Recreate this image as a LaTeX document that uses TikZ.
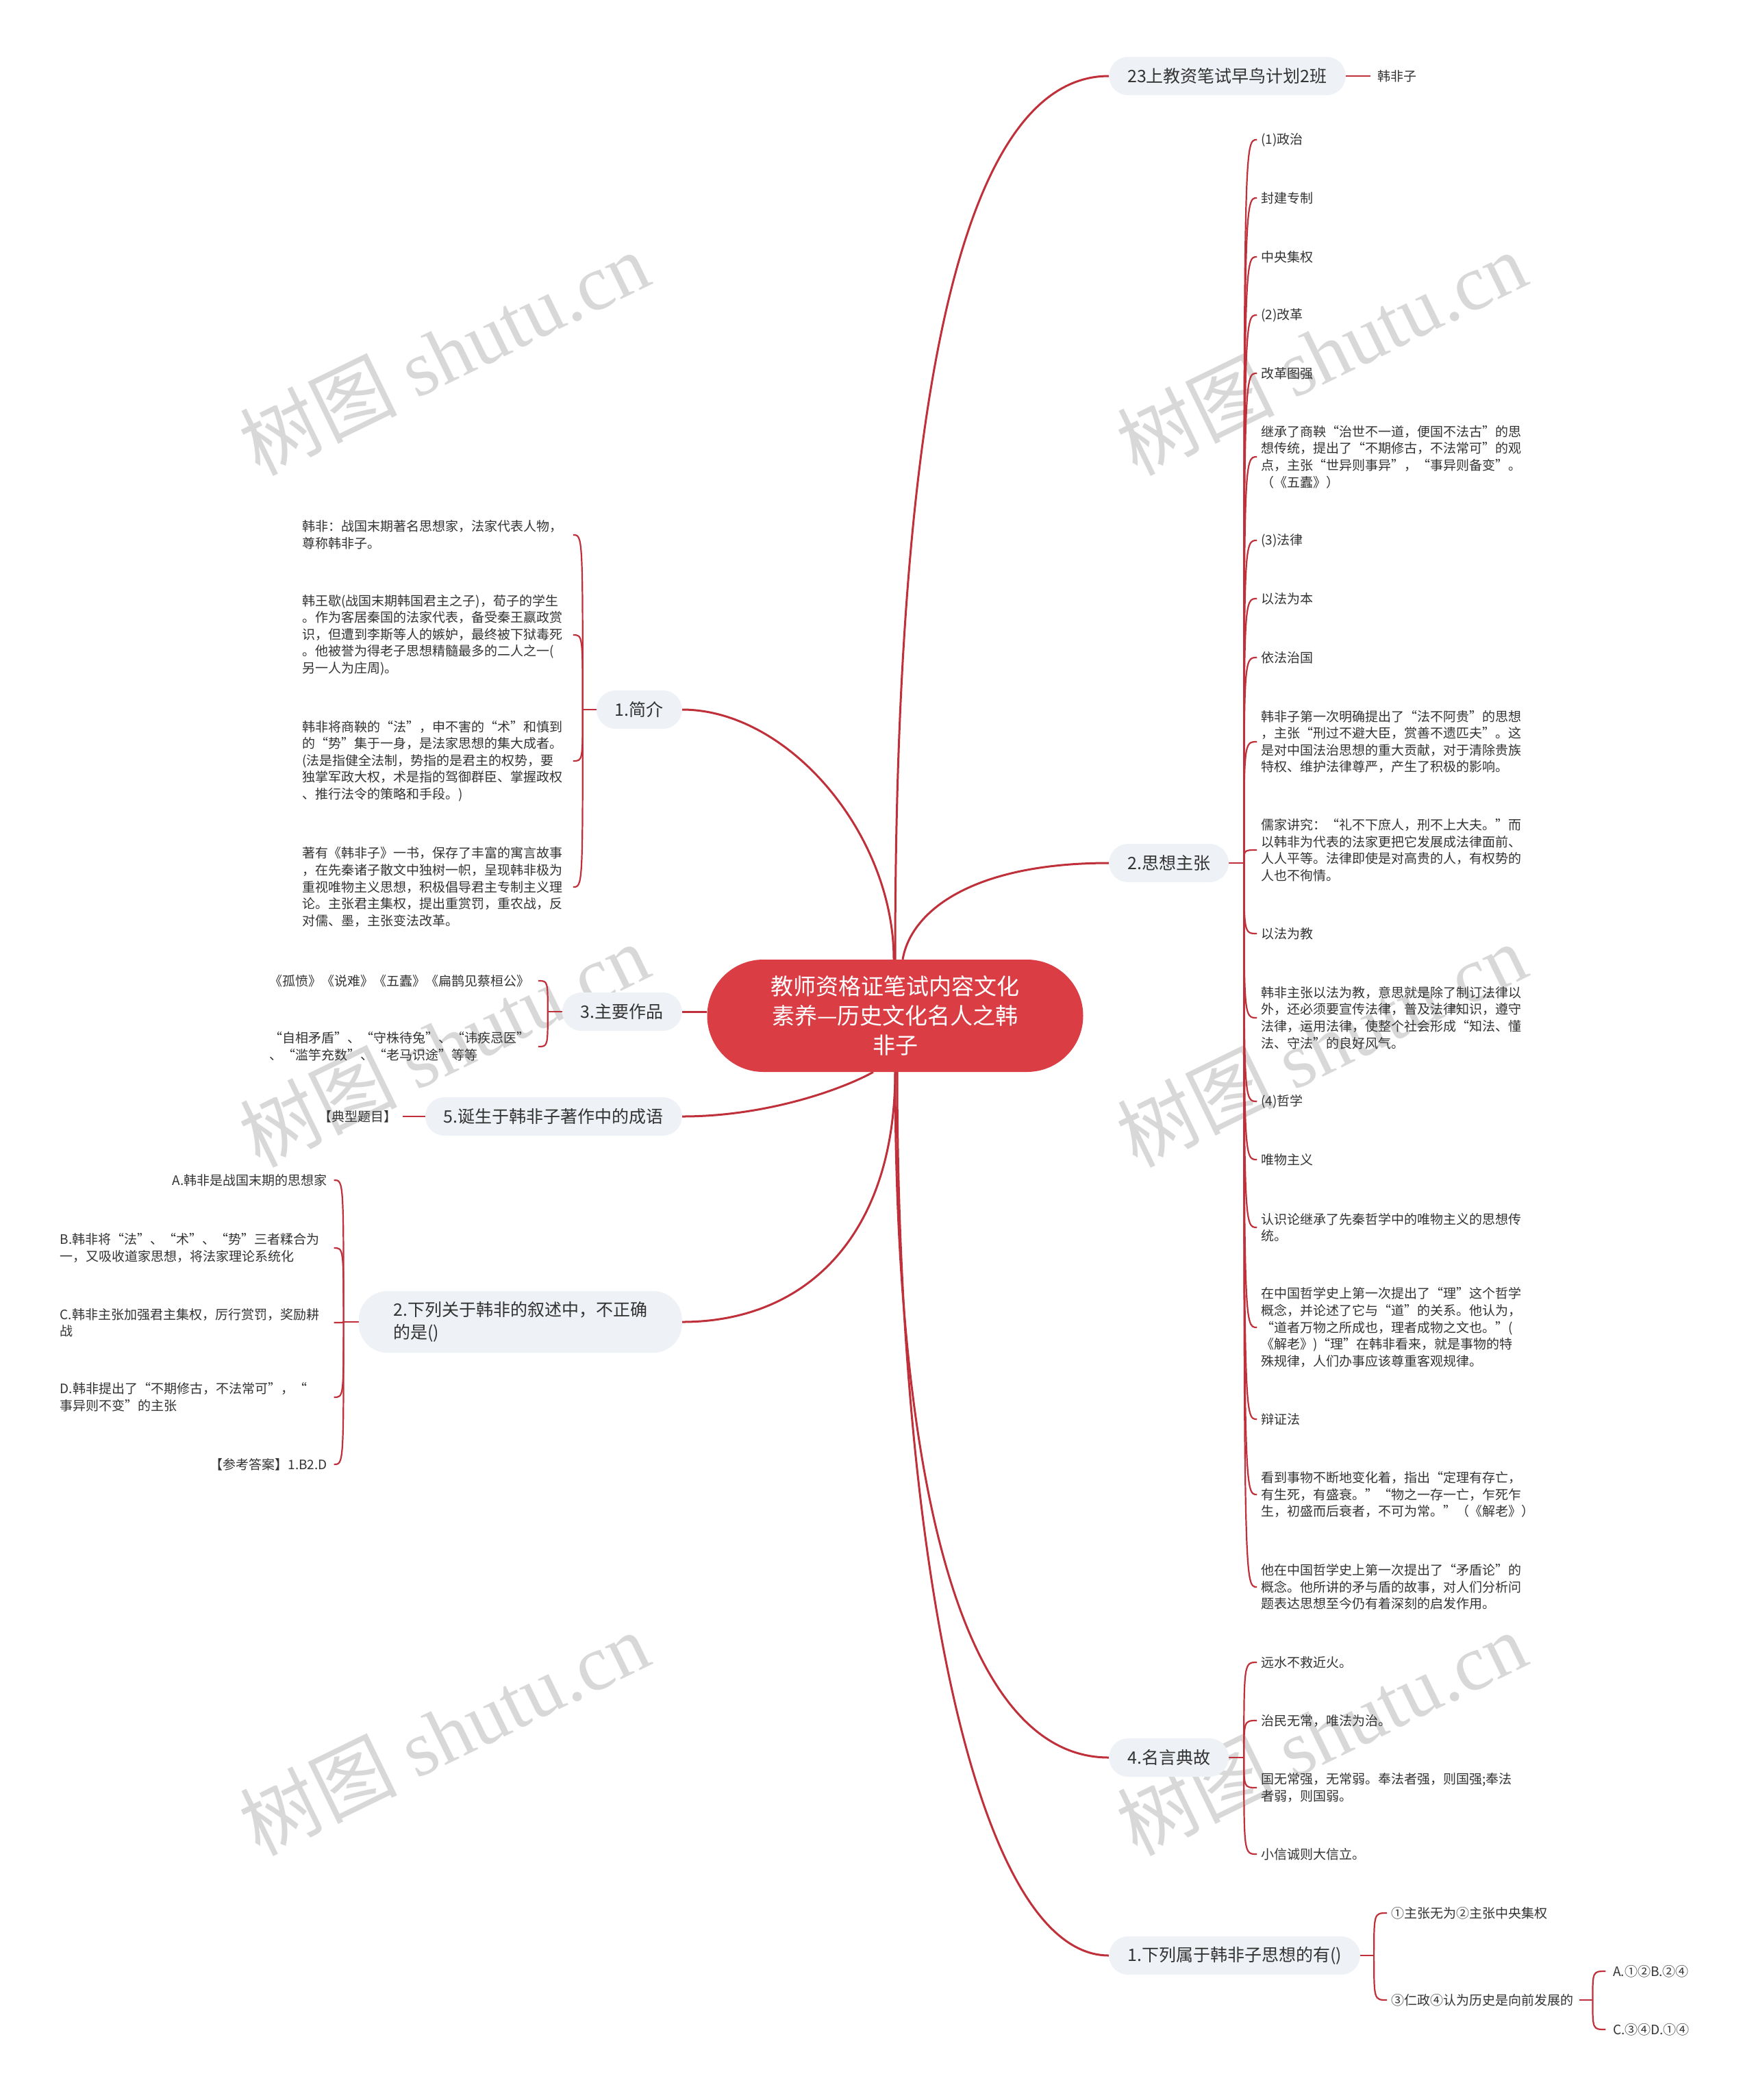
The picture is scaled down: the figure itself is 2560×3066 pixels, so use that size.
\documentclass[tikz,border=0pt]{standalone}
\usepackage{fontspec}
\setmainfont{Noto Sans CJK SC}
\newfontfamily\wmlatin{Liberation Serif}
\usetikzlibrary{calc,backgrounds}
\definecolor{lc}{HTML}{C0303A}
\definecolor{cfill}{HTML}{DB3D45}
\definecolor{bfill}{HTML}{EEF1F5}
\definecolor{txt}{HTML}{333333}
\definecolor{wm}{HTML}{D8D8D8}
\newcommand\hookR[2]{\draw[sub] (#1) .. controls (#1 |- #2.west) and (#1 |- #2.west) .. ($(#1 |- #2.west)+(19,0)$);}
\newcommand\hookL[2]{\draw[sub] (#1) .. controls (#1 |- #2.east) and (#1 |- #2.east) .. ($(#1 |- #2.east)+(-14,0)$);}
\begin{document}
\begin{tikzpicture}[x=1pt,y=-1pt,
  leaf/.style={inner sep=0pt, align=left, text=txt, font=\fontsize{19}{24.6}\selectfont},
  mainbox/.style={fill=bfill, rounded corners=28pt, inner xsep=27pt, inner ysep=0pt, minimum height=56pt, text=txt, font=\fontsize{25}{33}\selectfont, align=left},
  conn/.style={draw=lc, line width=3pt},
  sub/.style={draw=lc, line width=2.2pt},
  wmk/.style={text=wm, rotate=26, inner sep=0pt, font=\fontsize{115}{115}\selectfont}
]
\useasboundingbox (0,0) rectangle (2560,3066);

% root
\node[fill=cfill, text=white, rounded corners=82pt, minimum width=549pt, minimum height=164pt, align=center, inner sep=0pt, font=\fontsize{33}{43}\selectfont] (root) at (1307,1483) {教师资格证笔试内容文化\\素养—历史文化名人之韩\\非子};

% main branches
\node[mainbox, anchor=west] (b23) at (1619,111) {23上教资笔试早鸟计划2班};
\node[mainbox, anchor=west] (b2) at (1619,1260) {2.思想主张};
\node[mainbox, anchor=west] (b4) at (1619,2566) {4.名言典故};
\node[mainbox, anchor=west] (bq1) at (1619,2855) {1.下列属于韩非子思想的有()};
\node[mainbox, anchor=east] (b1) at (996,1036) {1.简介};
\node[mainbox, anchor=east] (b3) at (996,1477) {3.主要作品};
\node[mainbox, anchor=east] (b5) at (996,1630) {5.诞生于韩非子著作中的成语};
\node[mainbox, anchor=east, minimum height=90pt, minimum width=472pt, rounded corners=42pt, inner xsep=40pt] (bq2) at (996,1930) {2.下列关于韩非的叙述中，不正确\\的是()};

% 23上 child
\node[leaf, anchor=west] (hfz) at (2011,111) {韩非子};

% 2.思想主张 leaves
\node[leaf, anchor=west] (r1) at (1841,204) {(1)政治};
\node[leaf, anchor=west] (r2) at (1841,289) {封建专制};
\node[leaf, anchor=west] (r3) at (1841,375) {中央集权};
\node[leaf, anchor=west] (r4) at (1841,460) {(2)改革};
\node[leaf, anchor=west] (r5) at (1841,545) {改革图强};
\node[leaf, anchor=west] (r6) at (1841,667) {继承了商鞅“治世不一道，便国不法古”的思\\想传统，提出了“不期修古，不法常可”的观\\点，主张“世异则事异”，“事异则备变”。\\（《五蠹》）};
\node[leaf, anchor=west] (r7) at (1841,789) {(3)法律};
\node[leaf, anchor=west] (r8) at (1841,874) {以法为本};
\node[leaf, anchor=west] (r9) at (1841,960) {依法治国};
\node[leaf, anchor=west] (r10) at (1841,1083) {韩非子第一次明确提出了“法不阿贵”的思想\\，主张“刑过不避大臣，赏善不遗匹夫”。这\\是对中国法治思想的重大贡献，对于清除贵族\\特权、维护法律尊严，产生了积极的影响。};
\node[leaf, anchor=west] (r11) at (1841,1241) {儒家讲究：“礼不下庶人，刑不上大夫。”而\\以韩非为代表的法家更把它发展成法律面前、\\人人平等。法律即使是对高贵的人，有权势的\\人也不徇情。};
\node[leaf, anchor=west] (r12) at (1841,1363) {以法为教};
\node[leaf, anchor=west] (r13) at (1841,1486) {韩非主张以法为教，意思就是除了制订法律以\\外，还必须要宣传法律，普及法律知识，遵守\\法律，运用法律，使整个社会形成“知法、懂\\法、守法”的良好风气。};
\node[leaf, anchor=west] (r14) at (1841,1608) {(4)哲学};
\node[leaf, anchor=west] (r15) at (1841,1693) {唯物主义};
\node[leaf, anchor=west] (r16) at (1841,1792) {认识论继承了先秦哲学中的唯物主义的思想传\\统。};
\node[leaf, anchor=west] (r17) at (1841,1938) {在中国哲学史上第一次提出了“理”这个哲学\\概念，并论述了它与“道”的关系。他认为，\\“道者万物之所成也，理者成物之文也。”(\\《解老》)“理”在韩非看来，就是事物的特\\殊规律，人们办事应该尊重客观规律。};
\node[leaf, anchor=west] (r18) at (1841,2072) {辩证法};
\node[leaf, anchor=west] (r19) at (1841,2182) {看到事物不断地变化着，指出“定理有存亡，\\有生死，有盛衰。”“物之一存一亡，乍死乍\\生，初盛而后衰者，不可为常。”（《解老》）};
\node[leaf, anchor=west] (r20) at (1841,2317) {他在中国哲学史上第一次提出了“矛盾论”的\\概念。他所讲的矛与盾的故事，对人们分析问\\题表达思想至今仍有着深刻的启发作用。};

% 4.名言典故 leaves
\node[leaf, anchor=west] (m1) at (1841,2427) {远水不救近火。};
\node[leaf, anchor=west] (m2) at (1841,2512) {治民无常，唯法为治。};
\node[leaf, anchor=west] (m3) at (1841,2610) {国无常强，无常弱。奉法者强，则国强;奉法\\者弱，则国弱。};
\node[leaf, anchor=west] (m4) at (1841,2707) {小信诚则大信立。};

% 1.下列属于 leaves
\node[leaf, anchor=west] (s1) at (2031,2793) {①主张无为②主张中央集权};
\node[leaf, anchor=west] (s2) at (2031,2920) {③仁政④认为历史是向前发展的};
\node[leaf, anchor=west] (s3) at (2355,2878) {A.①②B.②④};
\node[leaf, anchor=west] (s4) at (2355,2963) {C.③④D.①④};

% 1.简介 leaves
\node[leaf, anchor=west] (j1) at (441,781) {韩非：战国末期著名思想家，法家代表人物，\\尊称韩非子。};
\node[leaf, anchor=west] (j2) at (441,927) {韩王歇(战国末期韩国君主之子)，荀子的学生\\。作为客居秦国的法家代表，备受秦王嬴政赏\\识，但遭到李斯等人的嫉妒，最终被下狱毒死\\。他被誉为得老子思想精髓最多的二人之一(\\另一人为庄周)。};
\node[leaf, anchor=west] (j3) at (441,1111) {韩非将商鞅的“法”，申不害的“术”和慎到\\的“势”集于一身，是法家思想的集大成者。\\(法是指健全法制，势指的是君主的权势，要\\独掌军政大权，术是指的驾御群臣、掌握政权\\、推行法令的策略和手段。)};
\node[leaf, anchor=west] (j4) at (441,1295) {著有《韩非子》一书，保存了丰富的寓言故事\\，在先秦诸子散文中独树一帜，呈现韩非极为\\重视唯物主义思想，积极倡导君主专制主义理\\论。主张君主集权，提出重赏罚，重农战，反\\对儒、墨，主张变法改革。};

% 3.主要作品 leaves
\node[leaf, anchor=east] (z1) at (774,1432) {《孤愤》《说难》《五蠹》《扁鹊见蔡桓公》};
\node[leaf, anchor=west] (z2) at (393,1528) {“自相矛盾”、“守株待兔”、“讳疾忌医”\\、“滥竽充数”、“老马识途”等等};

% 5.诞生 child
\node[leaf, anchor=east] (dx) at (580,1630) {【典型题目】};

% 2.下列关于 leaves
\node[leaf, anchor=east] (qa) at (478,1723) {A.韩非是战国末期的思想家};
\node[leaf, anchor=east, text width=390pt] (qb) at (478,1822) {B.韩非将“法”、“术”、“势”三者糅合为\\一，又吸收道家思想，将法家理论系统化};
\node[leaf, anchor=east, text width=390pt] (qc) at (478,1931) {C.韩非主张加强君主集权，厉行赏罚，奖励耕\\战};
\node[leaf, anchor=east, text width=390pt] (qd) at (478,2040) {D.韩非提出了“不期修古，不法常可”，“\\事异则不变”的主张};
\node[leaf, anchor=east] (qe) at (478,2138) {【参考答案】1.B2.D};

\begin{scope}[on background layer]
\fill[white] (0,0) rectangle (2560,3066);
% watermarks
\node[wmk] (w1) at (648,515) {树图 {\wmlatin shutu.cn}};
\node[wmk] (w2) at (1929,515) {树图 {\wmlatin shutu.cn}};
\node[wmk] (w3) at (648,1525) {树图 {\wmlatin shutu.cn}};
\node[wmk] (w4) at (1929,1525) {树图 {\wmlatin shutu.cn}};
\node[wmk] (w5) at (648,2530) {树图 {\wmlatin shutu.cn}};
\node[wmk] (w6) at (1929,2530) {树图 {\wmlatin shutu.cn}};

% main connectors
\draw[conn] (root.north) .. controls ($(root.north)+(0,-801)$) and ($(b23.west)+(-219,0)$) .. (b23.west);
\draw[conn] ($(root.north)+(11,0)$) .. controls ($(root.north)+(23,-71)$) and ($(b2.west)+(-199,0)$) .. (b2.west);
\draw[conn] ($(root.north)+(-2,0)$) .. controls ($(root.north)+(-2,-183)$) and ($(b1.east)+(155,0)$) .. (b1.east);
\draw[conn] (b3.east) -- (b3.east -| root.west);
\draw[conn] ($(root.south)+(-32,0)$) .. controls ($(root.south)+(-77,25)$) and ($(b5.east)+(124,0)$) .. (b5.east);
\draw[conn] (root.south) .. controls ($(root.south)+(0,235)$) and ($(bq2.east)+(184,0)$) .. (bq2.east);
\draw[conn] (root.south) .. controls ($(root.south)+(0,585)$) and ($(b4.west)+(-219,0)$) .. (b4.west);
\draw[conn] ($(root.south)+(3,0)$) .. controls ($(root.south)+(3,685)$) and ($(bq1.west)+(-199,0)$) .. (bq1.west);

% sub connectors
\draw[sub] (b23.east) -- ($(hfz.west)+(-10,0)$);
\coordinate (t2) at ($(b2.east)+(22,0)$);
\draw[sub] (b2.east) -- (t2);
\hookR{t2}{r1}\hookR{t2}{r2}\hookR{t2}{r3}\hookR{t2}{r4}\hookR{t2}{r5}
\hookR{t2}{r6}\hookR{t2}{r7}\hookR{t2}{r8}\hookR{t2}{r9}\hookR{t2}{r10}
\hookR{t2}{r11}\hookR{t2}{r12}\hookR{t2}{r13}\hookR{t2}{r14}\hookR{t2}{r15}
\hookR{t2}{r16}\hookR{t2}{r17}\hookR{t2}{r18}\hookR{t2}{r19}\hookR{t2}{r20}
\coordinate (t4) at ($(b4.east)+(22,0)$);
\draw[sub] (b4.east) -- (t4);
\hookR{t4}{m1}\hookR{t4}{m2}\hookR{t4}{m3}\hookR{t4}{m4}
\coordinate (tq1) at ($(bq1.east)+(20,0)$);
\draw[sub] (bq1.east) -- (tq1);
\hookR{tq1}{s1}\hookR{tq1}{s2}
\coordinate (ts2) at ($(s2.east)+(28,0)$);
\draw[sub] ($(s2.east)+(9,0)$) -- (ts2);
\hookR{ts2}{s3}\hookR{ts2}{s4}

\coordinate (t1) at ($(b1.west)+(-20,0)$);
\draw[sub] (b1.west) -- (t1);
\hookL{t1}{j1}\hookL{t1}{j2}\hookL{t1}{j3}\hookL{t1}{j4}
\coordinate (t3) at ($(b3.west)+(-21,0)$);
\draw[sub] (b3.west) -- (t3);
\hookL{t3}{z1}\hookL{t3}{z2}
\draw[sub] (b5.west) -- ($(dx.east)+(8,0)$);
\coordinate (tq2) at ($(bq2.west)+(-22,0)$);
\draw[sub] (bq2.west) -- (tq2);
\hookL{tq2}{qa}\hookL{tq2}{qb}\hookL{tq2}{qc}\hookL{tq2}{qd}\hookL{tq2}{qe}
\end{scope}
\end{tikzpicture}
\end{document}
